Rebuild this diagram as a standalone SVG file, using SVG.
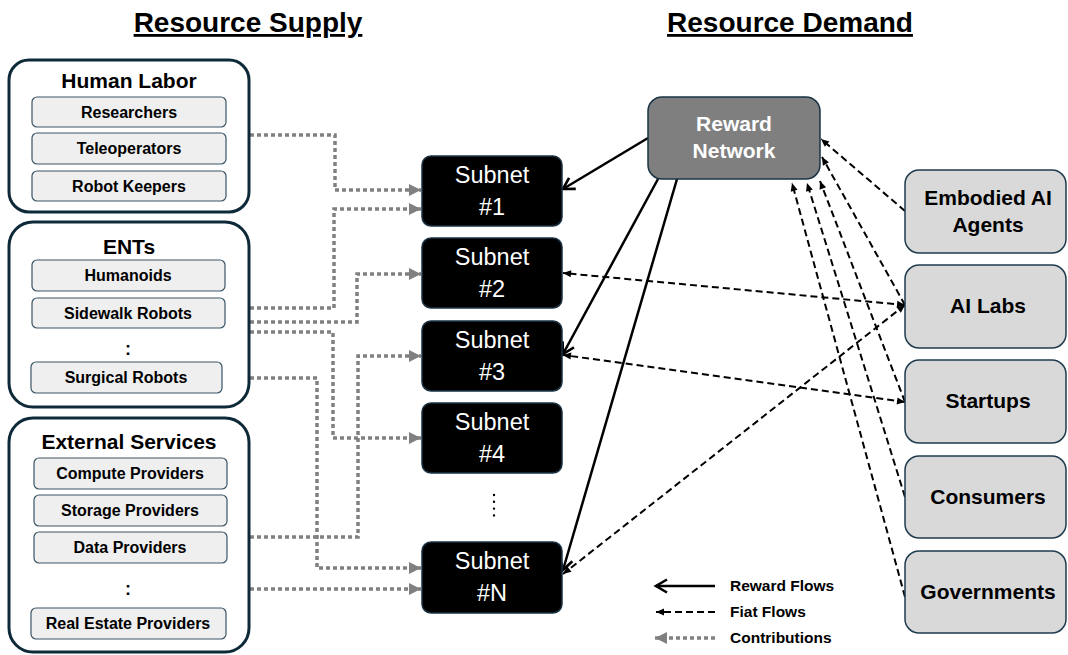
<svg xmlns="http://www.w3.org/2000/svg" width="1068" height="655" viewBox="0 0 1068 655">
<style>
text{font-family:"Liberation Sans",Arial,sans-serif;font-weight:bold;text-anchor:middle;}
.title{font-size:28px;text-decoration:underline;fill:#000;}
.grp{fill:#fff;stroke:#0e2a38;stroke-width:3;}
.gt{font-size:21px;fill:#000;}
.item{fill:#efefef;stroke:#3b5566;stroke-width:1.2;}
.it{font-size:16px;fill:#000;}
.sub{fill:#000;stroke:#1a3344;stroke-width:1.5;}
.st{font-size:23.5px;font-weight:normal;fill:#fff;}
.rn{fill:#7f7f7f;stroke:#1a3344;stroke-width:1.5;}
.rnt{font-size:21px;fill:#fff;}
.dem{fill:#d9d9d9;stroke:#1f3b4d;stroke-width:1.5;}
.dt{font-size:21px;fill:#000;}
.lt{font-size:15.5px;fill:#000;text-anchor:start;}
.reward{fill:none;stroke:#000;stroke-width:2.5;marker-end:url(#mReward);}
.fiat{fill:none;stroke:#000;stroke-width:2;stroke-dasharray:7 4;marker-end:url(#mFiat);}
.fiat2{marker-start:url(#mFiat);}
.contrib{fill:none;stroke:#808080;stroke-width:3.5;stroke-dasharray:4 3;marker-end:url(#mContrib);}
</style>
<defs>
<marker id="mReward" markerUnits="userSpaceOnUse" markerWidth="18" markerHeight="18" refX="14" refY="9" orient="auto-start-reverse" viewBox="0 0 18 18">
<path d="M3,2.5 L14,9 L3,15.5" fill="none" stroke="#000" stroke-width="2.6"/>
</marker>
<marker id="mFiat" markerUnits="userSpaceOnUse" markerWidth="10" markerHeight="10" refX="9" refY="5" orient="auto-start-reverse" viewBox="0 0 10 10">
<path d="M1,1.5 L9,5 L1,8.5 Z" fill="#000"/>
</marker>
<marker id="mContrib" markerUnits="userSpaceOnUse" markerWidth="14" markerHeight="14" refX="13" refY="7" orient="auto-start-reverse" viewBox="0 0 14 14">
<path d="M1,1 L13,7 L1,13 Z" fill="#808080"/>
</marker>
</defs>
<rect width="1068" height="655" fill="#fff"/>

<text class="title" x="248" y="32">Resource Supply</text>
<text class="title" x="790" y="32">Resource Demand</text>

<g id="connectors">
<path class="contrib" d="M250,135 H335 V190 H421"/>
<path class="contrib" d="M250,308 H334 V209 H421"/>
<path class="contrib" d="M250,322 H357 V274 H421"/>
<path class="contrib" d="M250,332 H333 V438 H421"/>
<path class="contrib" d="M250,378 H317 V568 H421"/>
<path class="contrib" d="M250,537 H358 V356 H421"/>
<path class="contrib" d="M250,589 H421"/>

<path class="reward" d="M648,138 L563,189"/>
<path class="reward" d="M658,179 L563,354"/>
<path class="reward" d="M677,179 L563,570"/>

<path class="fiat fiat2" d="M905,305 L563,273"/>
<path class="fiat fiat2" d="M905,305 L563,574"/>
<path class="fiat fiat2" d="M905,402 L563,355"/>
<path class="fiat" d="M905,211 L821,139"/>
<path class="fiat" d="M905,305 L822,157"/>
<path class="fiat" d="M905,402 L820,181"/>
<path class="fiat" d="M905,497 L807,183"/>
<path class="fiat" d="M905,597 L792,183"/>
</g>

<g id="human-labor">
<rect class="grp" x="9" y="60" width="240" height="152" rx="20"/>
<text class="gt" x="129" y="88">Human Labor</text>
<rect class="item" x="32" y="97" width="194" height="30" rx="5"/>
<text class="it" x="129" y="118">Researchers</text>
<rect class="item" x="32" y="133" width="194" height="31" rx="5"/>
<text class="it" x="129" y="154">Teleoperators</text>
<rect class="item" x="32" y="171" width="194" height="30" rx="5"/>
<text class="it" x="129" y="192">Robot Keepers</text>
</g>

<g id="ents">
<rect class="grp" x="9" y="222" width="240" height="185" rx="24"/>
<text class="gt" x="129" y="254">ENTs</text>
<rect class="item" x="32" y="260" width="193" height="31" rx="5"/>
<text class="it" x="128" y="281">Humanoids</text>
<rect class="item" x="32" y="298" width="193" height="30" rx="5"/>
<text class="it" x="128" y="319">Sidewalk Robots</text>
<text class="it" x="128" y="355" style="font-size:18px">:</text>
<rect class="item" x="31" y="362" width="191" height="31" rx="5"/>
<text class="it" x="126" y="383">Surgical Robots</text>
</g>

<g id="external-services">
<rect class="grp" x="9" y="418" width="240" height="234" rx="24"/>
<text class="gt" x="129" y="449">External Services</text>
<rect class="item" x="34" y="458" width="193" height="31" rx="5"/>
<text class="it" x="130" y="479">Compute Providers</text>
<rect class="item" x="34" y="495" width="193" height="31" rx="5"/>
<text class="it" x="130" y="516">Storage Providers</text>
<rect class="item" x="34" y="532" width="193" height="31" rx="5"/>
<text class="it" x="130" y="553">Data Providers</text>
<text class="it" x="128" y="595" style="font-size:18px">:</text>
<rect class="item" x="31" y="608" width="195" height="31" rx="5"/>
<text class="it" x="128" y="629">Real Estate Providers</text>
</g>

<g id="subnet-1">
<rect class="sub" x="422" y="156" width="140" height="70" rx="9"/>
<text class="st" x="492" y="183">Subnet</text>
<text class="st" x="492" y="215">#1</text>
</g>
<g id="subnet-2">
<rect class="sub" x="422" y="238" width="140" height="70" rx="9"/>
<text class="st" x="492" y="265">Subnet</text>
<text class="st" x="492" y="297">#2</text>
</g>
<g id="subnet-3">
<rect class="sub" x="422" y="321" width="140" height="70" rx="9"/>
<text class="st" x="492" y="348">Subnet</text>
<text class="st" x="492" y="380">#3</text>
</g>
<g id="subnet-4">
<rect class="sub" x="422" y="403" width="140" height="70" rx="9"/>
<text class="st" x="492" y="430">Subnet</text>
<text class="st" x="492" y="462">#4</text>
</g>
<g id="subnet-ellipsis">
<line x1="494" y1="495" x2="494" y2="516" stroke="#000" stroke-width="2.4" stroke-linecap="round" stroke-dasharray="0 6.8"/>
</g>
<g id="subnet-n">
<rect class="sub" x="422" y="542" width="140" height="71" rx="9"/>
<text class="st" x="492" y="569">Subnet</text>
<text class="st" x="492" y="601">#N</text>
</g>

<g id="reward-network">
<rect class="rn" x="648" y="97" width="172" height="82" rx="14"/>
<text class="rnt" x="734" y="131">Reward</text>
<text class="rnt" x="734" y="158">Network</text>
</g>

<g id="embodied-ai-agents">
<rect class="dem" x="905" y="170" width="161" height="83" rx="14"/>
<text class="dt" x="988" y="205">Embodied AI</text>
<text class="dt" x="988" y="232">Agents</text>
</g>
<g id="ai-labs">
<rect class="dem" x="905" y="265" width="161" height="83" rx="14"/>
<text class="dt" x="988" y="313">AI Labs</text>
</g>
<g id="startups">
<rect class="dem" x="905" y="360" width="161" height="83" rx="14"/>
<text class="dt" x="988" y="408">Startups</text>
</g>
<g id="consumers">
<rect class="dem" x="905" y="456" width="161" height="82" rx="14"/>
<text class="dt" x="988" y="504">Consumers</text>
</g>
<g id="governments">
<rect class="dem" x="905" y="551" width="161" height="82" rx="14"/>
<text class="dt" x="988" y="599">Governments</text>
</g>

<g id="legend">
<path class="reward" d="M715,586 L656,586"/>
<text class="lt" x="730" y="591">Reward Flows</text>
<path class="fiat" d="M715,612 L656,612"/>
<text class="lt" x="730" y="617">Fiat Flows</text>
<path class="contrib" d="M715,638 L655,638"/>
<text class="lt" x="730" y="643">Contributions</text>
</g>
</svg>
